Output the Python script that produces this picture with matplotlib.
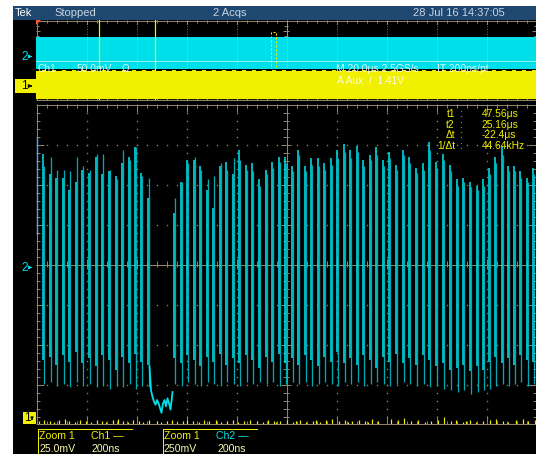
import matplotlib
matplotlib.use("Agg")
import matplotlib.pyplot as plt
from matplotlib.patches import Rectangle, Polygon

W, H, DPI = 536, 454, 100
PT = 72.0 / DPI  # points per pixel

TITLE_BG = '#1f4870'
GRAT = '#8f8468'
DOT = '#8a7f66'
CH1 = '#f0f000'
CH2 = '#00e0ea'
CH2_DIM = '#00aab2'
FONT = ['Liberation Sans', 'DejaVu Sans']

# --- zoom window, channel 2 (time in ns from zoom centre, volts) ---
pulse_t = [-972, -946, -922, -894, -868, -842, -816, -790, -762, -738,
           -710, -682, -656, -630, -606, -580, -554, -450, -422, -396,
           -370, -344, -318, -292, -266, -240, -214, -188, -162, -136,
           -108, -82, -56, -30, -4, 22, 48, 74, 100, 126,
           152, 178, 204, 230, 256, 282, 308, 334, 360, 386,
           412, 438, 468, 492, 520, 546, 572, 600, 626, 654,
           682, 708, 736, 762, 788, 810, 836, 862, 886, 912,
           936, 962, 988]
rise_top = [0.69, 0.56, 0.54, 0.54, 0.46, 0.51, 0.59, 0.57, 0.67, 0.56,
            0.58, 0.55, 0.63, 0.67, 0.73, 0.57, 0.41, 0.32, 0.51, 0.65,
            0.65, 0.61, 0.46, 0.35, 0.61, 0.64, 0.56, 0.71, 0.62, 0.63,
            0.53, 0.59, 0.64, 0.67, 0.67, 0.61, 0.71, 0.61, 0.66, 0.66,
            0.63, 0.66, 0.71, 0.75, 0.71, 0.74, 0.65, 0.68, 0.73, 0.65,
            0.70, 0.62, 0.71, 0.67, 0.60, 0.63, 0.76, 0.64, 0.69, 0.62,
            0.53, 0.54, 0.51, 0.49, 0.53, 0.60, 0.67, 0.73, 0.61, 0.61,
            0.58, 0.54, 0.60]
fall_top = [0.61, 0.67, 0.59, 0.59, 0.58, 0.67, 0.61, 0.59, 0.69, 0.69,
            0.59, 0.53, 0.71, 0.65, 0.73, 0.55, 0.54, 0.41, 0.51, 0.63,
            0.67, 0.59, 0.53, 0.55, 0.63, 0.59, 0.66, 0.65, 0.59, 0.58,
            0.49, 0.56, 0.60, 0.64, 0.63, 0.58, 0.68, 0.58, 0.62, 0.61,
            0.59, 0.62, 0.66, 0.70, 0.66, 0.70, 0.61, 0.65, 0.68, 0.61,
            0.66, 0.59, 0.68, 0.63, 0.57, 0.59, 0.71, 0.60, 0.65, 0.58,
            0.49, 0.51, 0.48, 0.46, 0.49, 0.56, 0.63, 0.68, 0.58, 0.58,
            0.54, 0.51, 0.56]
rise_foot = [-0.60, -0.58, -0.63, -0.57, -0.61, -0.55, -0.62, -0.59, -0.64, -0.57,
             -0.60, -0.66, -0.58, -0.62, -0.56, -0.61, -0.63, -0.59, -0.62, -0.57,
             -0.60, -0.64, -0.58, -0.61, -0.56, -0.63, -0.59, -0.62, -0.57, -0.60,
             -0.65, -0.58, -0.61, -0.56, -0.62, -0.59, -0.63, -0.57, -0.60, -0.64,
             -0.58, -0.61, -0.55, -0.62, -0.59, -0.63, -0.57, -0.60, -0.65, -0.58,
             -0.61, -0.56, -0.62, -0.59, -0.63, -0.57, -0.60, -0.64, -0.62, -0.66,
             -0.65, -0.63, -0.67, -0.64, -0.66, -0.61, -0.58, -0.62, -0.59, -0.63,
             -0.57, -0.60, -0.61]
fall_foot = [-0.75, -0.74, -0.76, -0.75, -0.77, -0.74, -0.76, -0.75, -0.77, -0.76,
             -0.78, -0.76, -0.77, -0.75, -0.78, -0.76, -0.77, -0.75, -0.76, -0.74,
             -0.75, -0.76, -0.74, -0.75, -0.76, -0.74, -0.75, -0.76, -0.74, -0.75,
             -0.74, -0.75, -0.74, -0.76, -0.75, -0.74, -0.75, -0.74, -0.76, -0.75,
             -0.74, -0.75, -0.76, -0.74, -0.75, -0.74, -0.76, -0.75, -0.74, -0.75,
             -0.76, -0.75, -0.74, -0.75, -0.76, -0.75, -0.77, -0.76, -0.78, -0.79,
             -0.80, -0.79, -0.81, -0.80, -0.79, -0.78, -0.76, -0.75, -0.76, -0.75,
             -0.74, -0.76, -0.75]

# dropout between the two bursts
dip_t = [-546, -540, -534, -528, -522, -516, -510, -504, -498, -492,
         -486, -480, -474, -468, -462, -458, -454]
dip_v = [-0.64, -0.79, -0.83, -0.86, -0.88, -0.85, -0.87, -0.90, -0.93, -0.87,
         -0.85, -0.89, -0.84, -0.87, -0.91, -0.86, -0.80]

# first column of the record
lead_t = [-996, -996]
lead_v = [0.79, 0.19]

# channel 1 glitches at the bottom of the zoom window (mV)
ch1_t = [-988, -968, -944, -928, -908, -884, -868, -844, -824, -800,
         -780, -756, -736, -720, -692, -672, -652, -632, -612, -588,
         -572, -548, -516, -500, -476, -456, -436, -412, -396, -372,
         -348, -328, -308, -280, -260, -236, -212, -192, -168, -144,
         -116, -92, -72, -48, -40, -24, 4, 28, 40, 56,
         80, 108, 120, 136, 160, 184, 212, 236, 248, 264,
         292, 316, 328, 344, 368, 420, 448, 472, 500, 528,
         556, 580, 608, 632, 660, 680, 708, 720, 736, 760,
         788, 816, 840, 868, 888, 920, 948, 968, 996]
ch1_v = [-98.1, -97.5, -98.1, -98.8, -97.5, -97.0, -98.1, -98.8, -97.5, -98.1,
         -98.8, -97.5, -98.1, -98.8, -97.5, -96.9, -98.1, -98.8, -97.5, -98.1,
         -98.8, -97.5, -98.1, -98.8, -98.1, -97.5, -98.8, -98.1, -97.5, -98.1,
         -98.8, -97.5, -98.1, -97.5, -98.8, -98.1, -97.5, -98.8, -98.1, -97.5,
         -98.1, -98.8, -97.5, -98.1, -98.8, -98.1, -97.5, -98.8, -98.1, -97.5,
         -98.8, -98.1, -97.5, -98.8, -97.5, -96.9, -98.1, -97.5, -98.8, -98.1,
         -97.5, -98.1, -98.8, -96.9, -98.1, -96.9, -97.5, -96.3, -98.1, -97.5,
         -98.8, -98.1, -97.5, -95.6, -98.1, -97.5, -98.8, -98.1, -97.5, -98.8,
         -98.1, -97.5, -96.9, -98.1, -98.8, -97.5, -96.9, -98.1, -97.5]

# overview record (divisions), cursors and zoom box (us)
ch2_env = (2.3, -0.9)
ch1_env = (-1.0, -3.95)
cursor_t1 = 47.56
cursor_t2 = 25.16
zoom_center = 95.0
zoom_span = 2.0


def px_rect(x0, y0, x1, y1):
    return [x0 / W, 1 - y1 / H, (x1 - x0) / W, (y1 - y0) / H]


def seg(ax, xs, ys, color=GRAT, lw=1.0, **kw):
    ax.plot(xs, ys, color=color, lw=lw * PT, solid_capstyle='butt', **kw)


def draw_graticule(ax, x0, y0, x1, y1, nx, ny, xstep, ystep, edge_len, dots=True):
    dx = (x1 - x0) / nx
    dy = (y1 - y0) / ny
    xc = (x0 + x1) / 2
    yc = (y0 + y1) / 2
    seg(ax, [x0 + .5, x0 + .5], [y0, y1])
    seg(ax, [x1 - .5, x1 - .5], [y0, y1])
    seg(ax, [x0, x1], [y0 + .5, y0 + .5])
    seg(ax, [x0, x1], [y1 - .5, y1 - .5])
    # edge ticks
    x = x0 + xstep
    while x < x1 - 1:
        major = abs((x - x0) / dx - round((x - x0) / dx)) < 1e-6
        ln = edge_len[1] if major else edge_len[0]
        seg(ax, [x + .5, x + .5], [y0, y0 + ln])
        seg(ax, [x + .5, x + .5], [y1 - ln, y1])
        seg(ax, [x + .5, x + .5], [yc - ln / 2 - 1, yc + ln / 2 + 1])
        x += xstep
    y = y0 + ystep
    while y < y1 - 1:
        major = abs((y - y0) / dy - round((y - y0) / dy)) < 1e-6
        ln = edge_len[1] if major else edge_len[0]
        seg(ax, [x0, x0 + ln], [y + .5, y + .5])
        seg(ax, [x1 - ln, x1], [y + .5, y + .5])
        seg(ax, [xc - ln / 2 - 1, xc + ln / 2 + 1], [y + .5, y + .5])
        y += ystep
    # centre cross
    seg(ax, [xc + .5, xc + .5], [y0, y1])
    seg(ax, [x0, x1], [yc + .5, yc + .5])
    if not dots:
        return
    xs, ys = [], []
    for k in range(1, ny):
        yy = y0 + k * dy
        if abs(yy - yc) < 1:
            continue
        x = x0 + xstep
        while x < x1 - 1:
            xs.append(x + .5)
            ys.append(yy + .5)
            x += xstep
    for k in range(1, nx):
        xx = x0 + k * dx
        if abs(xx - xc) < 1:
            continue
        y = y0 + ystep
        while y < y1 - 1:
            xs.append(xx + .5)
            ys.append(y + .5)
            y += ystep
    ax.plot(xs, ys, ls='none', marker='s', ms=1.0, mew=0, color=DOT)


fig = plt.figure(figsize=(W / DPI, H / DPI), dpi=DPI, facecolor='white')

# --- screen background, title bar, graticules ---
bg = fig.add_axes([0, 0, 1, 1])
bg.set_xlim(0, W)
bg.set_ylim(H, 0)
bg.axis('off')
bg.add_patch(Rectangle((13, 6), W - 13, H - 6, color='black', lw=0))
bg.add_patch(Rectangle((13, 6), W - 13, 14, color=TITLE_BG, lw=0))
title = dict(fontsize=8, family=FONT, va='center')
bg.text(15, 13.5, 'Tek', color='white', **title)
bg.text(54, 13.5, 'Stopped', color='#c8d4e0', **title)
bg.text(213, 13.5, '2 Acqs', color='#c8d4e0', **title)
bg.text(413, 13.5, '28 Jul 16 14:37:05', color='#c8d4e0', **title)

draw_graticule(bg, 36, 104, 536, 424, 10, 8, 10, 8, (3.5, 8))
draw_graticule(bg, 36, 20, 536, 100, 10, 8, 10, 5, (2.5, 4), dots=False)

# --- overview record ---
ov = fig.add_axes(px_rect(36, 20, 536, 100))
ov.set_xlim(0, 200)
ov.set_ylim(-4, 4)
ov.axis('off')
ov.patch.set_alpha(0)
ov.fill_between([0, 200], ch2_env[1], ch2_env[0], color=CH2, lw=0)
ov.fill_between([0, 200], ch1_env[1], ch1_env[0], color=CH1, lw=0)
ov.axhline(ch1_env[1] - 0.03, color='#ffff30', lw=1.2 * PT)
for t in (cursor_t1, cursor_t2):
    ov.axvline(t, color='#f8f000', lw=1.2 * PT)
ov.add_patch(Rectangle((zoom_center - zoom_span / 2, ch2_env[1] - 0.1), zoom_span,
                       ch2_env[0] - ch2_env[1] + 0.6, fill=False, ec='#f8f000',
                       lw=1 * PT, ls=(0, (2, 2))))

# overview grid seen through the record, and its readouts
top = fig.add_axes([0, 0, 1, 1])
top.set_xlim(0, W)
top.set_ylim(H, 0)
top.axis('off')
top.patch.set_alpha(0)
for k in range(1, 10):
    xx = 36 + k * 50 + .5
    top.plot([xx, xx], [21, 99], color='#e8e0c8', lw=1 * PT, alpha=0.45,
             ls=(0, (1, 1.5)))
top.plot([36, 536], [60.5, 60.5], color='white', lw=1 * PT, alpha=0.55)
top.plot([36, 536], [69.5, 69.5], color='black', lw=2 * PT, ls=(0, (3, 2)))
top.add_patch(Polygon([(36, 20), (41, 20), (36, 25)], closed=True, color='#ff5a1e', lw=0))
ov_txt = dict(color='white', alpha=0.85, fontsize=7.4, family=FONT, va='center')
top.text(37, 68.5, 'Ch1', **ov_txt)
top.text(77, 68.5, '50.0mV', **ov_txt)
top.text(122, 68.5, 'Ω', **ov_txt)
top.text(336, 68.5, 'M 20.0μs 2.5GS/s', **ov_txt)
top.text(437, 68.5, 'IT 200ps/pt', **ov_txt)
top.text(337, 81, 'A Aux  /  1.41V', **ov_txt)

# --- zoom window ---
zm = fig.add_axes(px_rect(36, 104, 536, 424))
zm.set_xlim(-1000, 1000)
zm.set_ylim(-1, 1)
zm.axis('off')
zm.patch.set_alpha(0)
fall_t = [t + 4 for t in pulse_t]
zm.vlines(fall_t, fall_foot, fall_top, color=CH2_DIM, lw=1.3 * PT)
zm.vlines(pulse_t, rise_foot, rise_top, color=CH2, lw=1.6 * PT)
zm.plot(dip_t, dip_v, color=CH2, lw=1.8 * PT)
zm.plot(lead_t, lead_v, color='#5aa0ff', lw=1.4 * PT)

c1 = fig.add_axes(px_rect(36, 104, 536, 424))
c1.set_xlim(-1000, 1000)
c1.set_ylim(-100, 100)
c1.axis('off')
c1.patch.set_alpha(0)
c1.vlines(ch1_t, -100, ch1_v, color=CH1, lw=1.2 * PT)

# --- markers, cursor readout, scale boxes ---
lab = fig.add_axes([0, 0, 1, 1])
lab.set_xlim(0, W)
lab.set_ylim(H, 0)
lab.axis('off')
lab.patch.set_alpha(0)

mk = dict(fontsize=8.5, family=FONT, va='center')
lab.text(21, 57, '2', color=CH2, **mk)
lab.annotate('', xy=(35, 56.5), xytext=(28, 56.5),
             arrowprops=dict(arrowstyle='-|>', color=CH2, lw=1 * PT, mutation_scale=5))
lab.add_patch(Rectangle((15, 79), 21, 14, color=CH1, lw=0))
lab.text(21, 86, '1', color='black', **mk)
lab.annotate('', xy=(35, 86), xytext=(28, 86),
             arrowprops=dict(arrowstyle='-|>', color='black', lw=1 * PT, mutation_scale=5))
lab.text(21, 268, '2', color=CH2, **mk)
lab.annotate('', xy=(35, 267.5), xytext=(28, 267.5),
             arrowprops=dict(arrowstyle='-|>', color=CH2, lw=1 * PT, mutation_scale=5))
lab.add_patch(Rectangle((23, 412), 13, 12, color=CH1, lw=0))
lab.text(24, 418, '1', color='black', **mk)
lab.annotate('', xy=(32, 423), xytext=(32, 416),
             arrowprops=dict(arrowstyle='-|>', color='black', lw=1 * PT, mutation_scale=4))

dt = cursor_t2 - cursor_t1
rows = [('t1', f'{cursor_t1:.2f}μs'), ('t2', f'{cursor_t2:.2f}μs'),
        ('Δt', f'{dt:.1f}μs'), ('1/Δt', f'{1e3 / abs(dt):.2f}kHz')]
cur = dict(color=CH1, fontsize=7.4, family=FONT, va='center')
for i, (name, val) in enumerate(rows):
    y = 114 + i * 10.7
    lab.text(455, y, name, ha='right', **cur)
    lab.text(459, y, ':', **cur)
    lab.text(482, y, val, **cur)

boxes = [(37, 'Ch1', CH1, '25.0mV'), (162, 'Ch2', CH2, '250mV')]
rd = dict(fontsize=7.6, family=FONT, va='center')
for x0, ch, col, scale in boxes:
    lab.plot([x0 + .5, x0 + 95], [428.5, 428.5], color=CH1, lw=1 * PT)
    lab.plot([x0 + .5, x0 + .5], [428.5, 454], color=CH1, lw=1 * PT)
    lab.text(x0 + 2, 436, 'Zoom 1', color=CH1, **rd)
    lab.text(x0 + 54, 436, ch + ' —', color=col, **rd)
    lab.text(x0 + 2, 448.5, scale, color='#f8f8b0', **rd)
    lab.text(x0 + 55, 448.5, '200ns', color='#f8f8b0', **rd)

fig.savefig('out.png', dpi=DPI, facecolor='white')
